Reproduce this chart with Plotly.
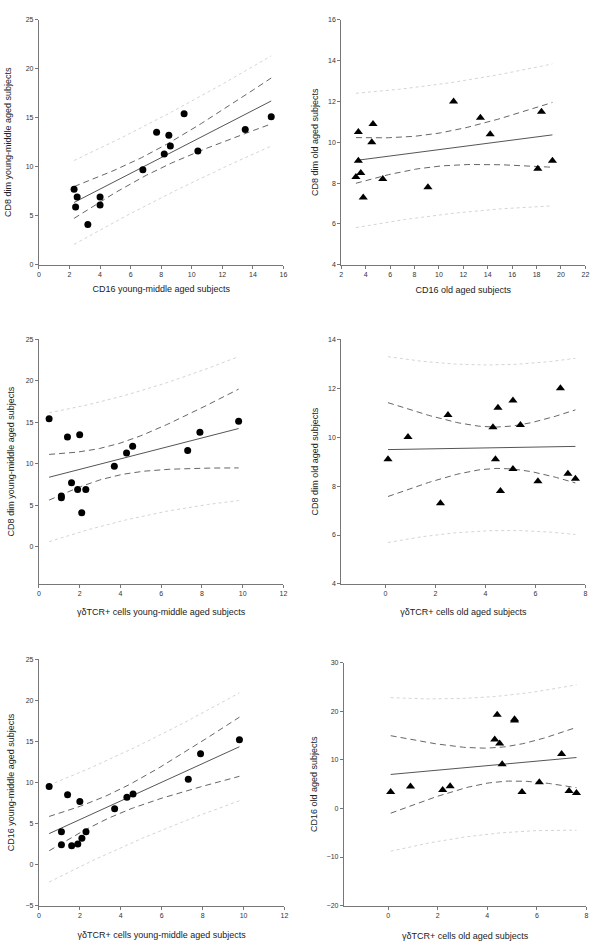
import numpy as np
import plotly.graph_objects as go

# ---- data ----
# young-middle aged subjects
gd_young = [0.5, 1.1, 1.1, 1.4, 1.6, 1.9, 2.0, 2.1, 2.3, 3.7, 4.3, 4.6, 7.3, 7.9, 9.8]
cd16_young = [9.5, 4.0, 2.4, 8.5, 2.3, 2.5, 7.7, 3.2, 4.0, 6.8, 8.2, 8.6, 10.4, 13.5, 15.2]
cd8_young = [15.4, 6.1, 5.9, 13.2, 7.7, 6.9, 13.5, 4.1, 6.9, 9.7, 11.3, 12.1, 11.6, 13.8, 15.1]
# old aged subjects
gd_old = [0.1, 0.9, 2.2, 2.5, 4.3, 4.4, 4.5, 4.6, 5.1, 5.1, 5.4, 6.1, 7.0, 7.3, 7.6]
cd16_old = [3.4, 4.5, 3.8, 4.6, 14.2, 19.3, 13.4, 9.1, 18.1, 18.4, 3.4, 5.4, 11.2, 3.6, 3.2]
cd8_old = [9.1, 10.0, 7.3, 10.9, 10.4, 9.1, 11.2, 7.8, 8.7, 11.5, 10.5, 8.2, 12.0, 8.5, 8.3]

T_CRIT = 2.1604  # Student t, 95%, df = 13

panels = [
    dict(x=cd16_young, y=cd8_young, sym="circle",
         xt="CD16 young-middle aged subjects", yt="CD8 dim young-middle aged subjects",
         xr=[0, 16], yr=[0, 25], xd=2, yd=5, ys=12, xs=8,
         px=(37.3, 284.3), py=(15.7, 262.7)),
    dict(x=cd16_old, y=cd8_old, sym="triangle-up",
         xt="CD16 old aged subjects", yt="CD8 dim old aged subjects",
         xr=[2, 22], yr=[4, 16], xd=2, yd=2, ys=7, xs=9,
         px=(342.7, 589.3), py=(16.0, 262.7)),
    dict(x=gd_young, y=cd8_young, sym="circle",
         xt="γδTCR+ cells young-middle aged subjects", yt="CD8 dim young-middle aged subjects",
         xr=[0, 12], yr=[-4.5, 25], xd=2, yd=5, y0=0, ys=9, xs=12,
         px=(37.3, 284.3), py=(337.7, 584.3)),
    dict(x=gd_old, y=cd8_old, sym="triangle-up",
         xt="γδTCR+ cells old aged subjects", yt="CD8 dim old aged subjects",
         xr=[-1.77, 8], yr=[4, 14], xd=2, yd=2, x0=0, ys=7, xs=12,
         px=(342.7, 589.3), py=(337.7, 584.3)),
    dict(x=gd_young, y=cd16_young, sym="circle",
         xt="γδTCR+ cells young-middle aged subjects", yt="CD16 young-middle aged subjects",
         xr=[0, 12], yr=[-5, 25], xd=2, yd=5, ys=9, xs=13,
         px=(37.3, 285.3), py=(660.3, 908.3)),
    dict(x=gd_old, y=cd16_old, sym="triangle-up",
         xt="γδTCR+ cells old aged subjects", yt="CD16 old aged subjects",
         xr=[-1.79, 8], yr=[-20, 30], xd=2, yd=10, x0=0, ys=7, xs=14,
         px=(345.3, 590.3), py=(663.7, 908.3)),
]

W, H = 600, 948
fig = go.Figure()
layout = dict(width=W, height=H, margin=dict(l=0, r=0, t=0, b=0),
              paper_bgcolor="white", plot_bgcolor="white", showlegend=False,
              font=dict(family="Liberation Sans, Arial", color="#333"))

FONT_T = dict(size=9, color="#222", family="Liberation Sans, Arial")
FONT_K = dict(size=7, color="#333", family="Liberation Sans, Arial")

for i, p in enumerate(panels, start=1):
    xa = "x" if i == 1 else f"x{i}"
    ya = "y" if i == 1 else f"y{i}"
    x = np.array(p["x"], float)
    y = np.array(p["y"], float)
    n = len(x)
    b, a = np.polyfit(x, y, 1)
    xs = np.linspace(x.min(), x.max(), 80)
    yh = a + b * xs
    resid = y - (a + b * x)
    s = np.sqrt(np.sum(resid ** 2) / (n - 2))
    sxx = np.sum((x - x.mean()) ** 2)
    se_m = s * np.sqrt(1 / n + (xs - x.mean()) ** 2 / sxx)
    se_p = s * np.sqrt(1 + 1 / n + (xs - x.mean()) ** 2 / sxx)

    for sgn in (1, -1):
        fig.add_trace(go.Scatter(x=xs, y=yh + sgn * T_CRIT * se_p, mode="lines",
                                 line=dict(color="#d4d4d4", width=1, dash="dot"),
                                 xaxis=xa, yaxis=ya, hoverinfo="skip"))
        fig.add_trace(go.Scatter(x=xs, y=yh + sgn * T_CRIT * se_m, mode="lines",
                                 line=dict(color="#666", width=1, dash="6px,4px"),
                                 xaxis=xa, yaxis=ya, hoverinfo="skip"))
    fig.add_trace(go.Scatter(x=xs, y=yh, mode="lines",
                             line=dict(color="#555", width=1),
                             xaxis=xa, yaxis=ya, hoverinfo="skip"))
    fig.add_trace(go.Scatter(x=x, y=y, mode="markers",
                             marker=dict(symbol=p["sym"], size=7 if p["sym"] == "circle" else 8,
                                         color="black", line=dict(width=0)),
                             xaxis=xa, yaxis=ya))

    xk = "xaxis" if i == 1 else f"xaxis{i}"
    yk = "yaxis" if i == 1 else f"yaxis{i}"
    axcommon = dict(showgrid=False, zeroline=False, showline=True, linecolor="#777",
                    linewidth=1, ticks="outside", ticklen=3, tickcolor="#777",
                    tickfont=FONT_K, ticklabeloverflow="allow")
    layout[xk] = dict(axcommon, range=p["xr"], dtick=p["xd"], tick0=p.get("x0", p["xr"][0]),
                      domain=[p["px"][0] / W, p["px"][1] / W], anchor=ya,
                      title=dict(text=p["xt"], font=FONT_T, standoff=p["xs"]))
    layout[yk] = dict(axcommon, range=p["yr"], dtick=p["yd"], tick0=p.get("y0", p["yr"][0]),
                      domain=[1 - p["py"][1] / H, 1 - p["py"][0] / H], anchor=xa,
                      title=dict(text=p["yt"], font=FONT_T, standoff=p["ys"]))

fig.update_layout(**layout)
fig.write_html("out.html", config={"displayModeBar": False},
               post_script="document.body.style.margin='0';")
